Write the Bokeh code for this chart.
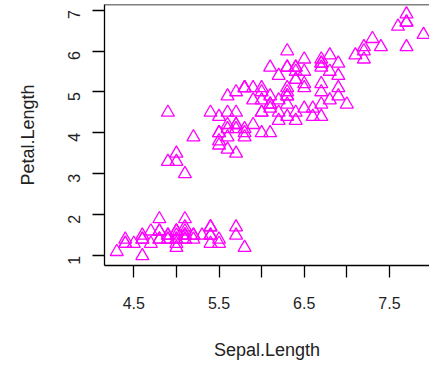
import math
from bokeh.plotting import figure
from bokeh.models import Span, FixedTicker
from bokeh.embed import file_html
from bokeh.resources import INLINE

sepal_length = [
    5.1, 4.9, 4.7, 4.6, 5.0, 5.4, 4.6, 5.0, 4.4, 4.9,
    5.4, 4.8, 4.8, 4.3, 5.8, 5.7, 5.4, 5.1, 5.7, 5.1,
    5.4, 5.1, 4.6, 5.1, 4.8, 5.0, 5.0, 5.2, 5.2, 4.7,
    4.8, 5.4, 5.2, 5.5, 4.9, 5.0, 5.5, 4.9, 4.4, 5.1,
    5.0, 4.5, 4.4, 5.0, 5.1, 4.8, 5.1, 4.6, 5.3, 5.0,
    7.0, 6.4, 6.9, 5.5, 6.5, 5.7, 6.3, 4.9, 6.6, 5.2,
    5.0, 5.9, 6.0, 6.1, 5.6, 6.7, 5.6, 5.8, 6.2, 5.6,
    5.9, 6.1, 6.3, 6.1, 6.4, 6.6, 6.8, 6.7, 6.0, 5.7,
    5.5, 5.5, 5.8, 6.0, 5.4, 6.0, 6.7, 6.3, 5.6, 5.5,
    5.5, 6.1, 5.8, 5.0, 5.6, 5.7, 5.7, 6.2, 5.1, 5.7,
    6.3, 5.8, 7.1, 6.3, 6.5, 7.6, 4.9, 7.3, 6.7, 7.2,
    6.5, 6.4, 6.8, 5.7, 5.8, 6.4, 6.5, 7.7, 7.7, 6.0,
    6.9, 5.6, 7.7, 6.3, 6.7, 7.2, 6.2, 6.1, 6.4, 7.2,
    7.4, 7.9, 6.4, 6.3, 6.1, 7.7, 6.3, 6.4, 6.0, 6.9,
    6.7, 6.9, 5.8, 6.8, 6.7, 6.7, 6.3, 6.5, 6.2, 5.9,
]

petal_length = [
    1.4, 1.4, 1.3, 1.5, 1.4, 1.7, 1.4, 1.5, 1.4, 1.5,
    1.5, 1.6, 1.4, 1.1, 1.2, 1.5, 1.3, 1.4, 1.7, 1.5,
    1.7, 1.5, 1.0, 1.7, 1.9, 1.6, 1.6, 1.5, 1.4, 1.6,
    1.6, 1.5, 1.5, 1.4, 1.5, 1.2, 1.3, 1.4, 1.3, 1.5,
    1.3, 1.3, 1.3, 1.6, 1.9, 1.4, 1.6, 1.4, 1.5, 1.4,
    4.7, 4.5, 4.9, 4.0, 4.6, 4.5, 4.7, 3.3, 4.6, 3.9,
    3.5, 4.2, 4.0, 4.7, 3.6, 4.4, 4.5, 4.1, 4.5, 3.9,
    4.8, 4.0, 4.9, 4.7, 4.3, 4.4, 4.8, 5.0, 4.5, 3.5,
    3.8, 3.7, 3.9, 5.1, 4.5, 4.5, 4.7, 4.4, 4.1, 4.0,
    4.4, 4.6, 4.0, 3.3, 4.2, 4.2, 4.2, 4.3, 3.0, 4.1,
    6.0, 5.1, 5.9, 5.6, 5.8, 6.6, 4.5, 6.3, 5.8, 6.1,
    5.1, 5.3, 5.5, 5.0, 5.1, 5.3, 5.5, 6.7, 6.9, 5.0,
    5.7, 4.9, 6.7, 4.9, 5.7, 6.0, 4.8, 4.9, 5.6, 5.8,
    6.1, 6.4, 5.6, 5.1, 5.6, 6.1, 5.6, 5.5, 4.8, 5.4,
    5.6, 5.1, 5.1, 5.9, 5.7, 5.2, 5.0, 5.2, 5.4, 5.1,
]

x_ticks = [4.5, 5.0, 5.5, 6.0, 6.5, 7.0, 7.5]
x_tick_labels = {4.5: "4.5", 5.0: "", 5.5: "5.5", 6.0: "", 6.5: "6.5", 7.0: "", 7.5: "7.5"}
y_ticks = [1, 2, 3, 4, 5, 6, 7]

FONT = "Liberation Sans"

p = figure(
    width=429, height=367,
    x_range=(4.156, 7.97), y_range=(0.764, 7.136),
    output_backend="svg", toolbar_location=None,
    min_border_left=104, min_border_right=0, min_border_top=4, min_border_bottom=102,
    x_axis_label="Sepal.Length", y_axis_label="Petal.Length",
)

p.scatter(sepal_length, petal_length, marker="triangle", size=13,
          fill_color=None, line_color="#FF00FF", line_width=1.3)

p.grid.visible = False
p.outline_line_color = None
p.background_fill_color = "white"
p.border_fill_color = "white"

p.add_layout(Span(location=7.136, dimension="width", line_color="black", line_width=1.5))

for ax in (p.xaxis[0], p.yaxis[0]):
    ax.axis_line_color = "black"
    ax.axis_line_width = 1.3
    ax.major_tick_line_color = "black"
    ax.major_tick_line_width = 1.3
    ax.minor_tick_line_color = None
    ax.major_tick_in = 0
    ax.major_label_text_font = FONT
    ax.major_label_text_font_size = "16px"
    ax.major_label_text_color = "#222222"
    ax.axis_label_text_font = FONT
    ax.axis_label_text_font_size = "18px"
    ax.axis_label_text_font_style = "normal"
    ax.axis_label_text_color = "#222222"

p.xaxis.ticker = FixedTicker(ticks=x_ticks)
p.xaxis.major_label_overrides = x_tick_labels
p.xaxis.major_tick_out = 12
p.xaxis.major_label_standoff = 19
p.xaxis.axis_label_standoff = 28

p.yaxis.ticker = FixedTicker(ticks=y_ticks)
p.yaxis.major_tick_out = 12
p.yaxis.major_label_orientation = math.pi / 2
p.yaxis.major_label_standoff = 18
p.yaxis.axis_label_standoff = 22

open("out.html", "w").write(file_html(p, INLINE))
